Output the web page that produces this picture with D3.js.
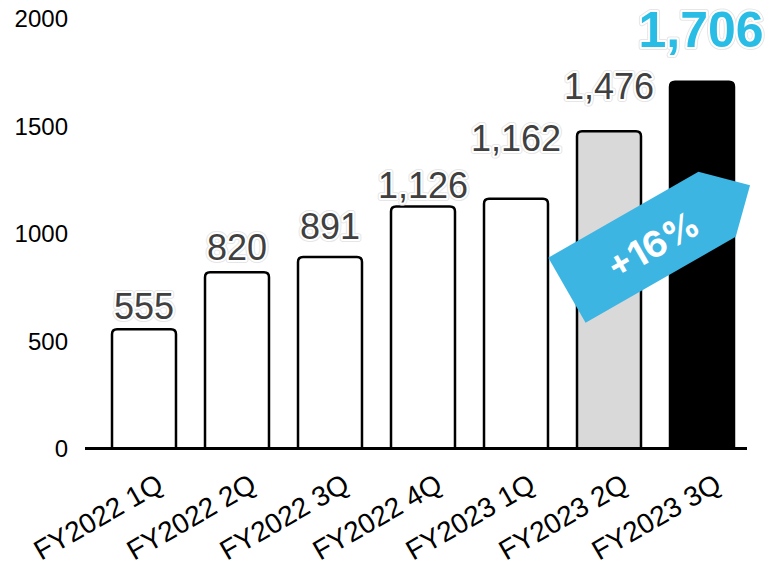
<!DOCTYPE html>
<html>
<head>
<meta charset="utf-8">
<script src="https://cdn.jsdelivr.net/npm/d3@7"></script>
<style>
  html, body { margin: 0; padding: 0; background: #fff; }
  svg { display: block; font-family: "Liberation Sans", Arial, sans-serif; }
</style>
</head>
<body>
<svg id="chart" width="765" height="568"></svg>
<script>
// Quarterly values
const quarters = ["FY2022 1Q", "FY2022 2Q", "FY2022 3Q", "FY2022 4Q", "FY2023 1Q", "FY2023 2Q", "FY2023 3Q"];
const values = [555, 820, 891, 1126, 1162, 1476, 1706];
const yTicks = [0, 500, 1000, 1500, 2000];
const growthLabel = "+16%";

// Bar fills: past quarters white, previous quarter grey, latest black
const fills = ["#ffffff", "#ffffff", "#ffffff", "#ffffff", "#ffffff", "#d9d9d9", "#000000"];
// Extra gap between each value label and its bar top (px)
const labelLift = [10, 12, 18, 8, 48, 32, 35];

const svg = d3.select("#chart");

const x = d3.scaleBand()
  .domain(quarters)
  .range([97.5, 748.5])
  .paddingInner(0.312)
  .paddingOuter(0.156);

const y = d3.scaleLinear()
  .domain([0, 2000])
  .range([448.5, 18.5]);

// Y axis tick labels (no axis line)
const yAxis = d3.axisLeft(y).tickValues(yTicks).tickSize(0).tickPadding(0).tickFormat(d3.format("d"));
const yg = svg.append("g").attr("transform", "translate(68,0)").call(yAxis);
yg.select(".domain").remove();
yg.selectAll("text")
  .attr("font-size", 24)
  .attr("font-family", "Liberation Sans, Arial, sans-serif")
  .attr("fill", "#000")
  .attr("dy", "0.35em");

// Bars with rounded tops
function barPath(d, i) {
  const x0 = x(quarters[i]);
  const w = x.bandwidth();
  const yt = y(d);
  const yb = y(0);
  const r = 5;
  return `M${x0},${yb} L${x0},${yt + r} Q${x0},${yt} ${x0 + r},${yt} L${x0 + w - r},${yt} Q${x0 + w},${yt} ${x0 + w},${yt + r} L${x0 + w},${yb}`;
}

svg.append("g").selectAll("path")
  .data(values)
  .join("path")
  .attr("d", barPath)
  .attr("fill", (d, i) => fills[i])
  .attr("stroke", "#000")
  .attr("stroke-width", 2.5)
  .attr("stroke-linejoin", "round");

// Baseline
svg.append("line")
  .attr("x1", 85).attr("x2", 747)
  .attr("y1", y(0)).attr("y2", y(0))
  .attr("stroke", "#000")
  .attr("stroke-width", 3);

// X axis labels, rotated
const xAxis = d3.axisBottom(x).tickSize(0).tickPadding(0);
const xg = svg.append("g").attr("transform", `translate(0,${y(0)})`).call(xAxis);
xg.select(".domain").remove();
xg.selectAll("text")
  .attr("font-size", 28)
  .attr("font-family", "Liberation Sans, Arial, sans-serif")
  .attr("fill", "#000")
  .attr("text-anchor", "end")
  .attr("dy", null)
  .attr("y", 0)
  .attr("transform", "translate(21,41) rotate(-30)");

// Value labels with a soft halo
const labels = svg.append("g");
const normal = values.slice(0, values.length - 1);
function drawLabels(sel, stroke, sw) {
  sel.selectAll(null)
    .data(normal)
    .join("text")
    .attr("x", (d, i) => x(quarters[i]) + x.bandwidth() / 2)
    .attr("y", (d, i) => y(d) - labelLift[i])
    .attr("text-anchor", "middle")
    .attr("font-size", 36)
    .attr("fill", "#404040")
    .attr("stroke", stroke)
    .attr("stroke-width", sw)
    .attr("stroke-linejoin", "round")
    .attr("paint-order", "stroke")
    .text(d => d3.format(",")(d));
}
drawLabels(labels.append("g"), "#e6e6e6", 6);
drawLabels(labels.append("g"), "#ffffff", 4);

// Latest quarter label, highlighted
const last = values.length - 1;
[["#e6e6e6", 6], ["#ffffff", 4]].forEach(([s, w]) => {
  svg.append("text")
    .attr("x", x(quarters[last]) + x.bandwidth() / 2 - 1)
    .attr("y", y(values[last]) - labelLift[last])
    .attr("text-anchor", "middle")
    .attr("font-size", 50)
    .attr("font-weight", "bold")
    .attr("fill", "#29bde6")
    .attr("stroke", s)
    .attr("stroke-width", w)
    .attr("stroke-linejoin", "round")
    .attr("paint-order", "stroke")
    .text(d3.format(",")(values[last]));
});

// Growth arrow between the last two quarters
const cx = (x(quarters[last - 1]) + x(quarters[last])) / 2 + x.bandwidth() / 2 + 3;
const cy = y(980);
const L = 173, H = 75, tip = 38;
const arrow = svg.append("g")
  .attr("transform", `translate(${cx},${cy}) rotate(-29.8) translate(${-(L + tip) / 2},${-H / 2})`);
arrow.append("path")
  .attr("d", `M0,0 L${L},0 L${L + tip},${H / 2} L${L},${H} L0,${H} Z`)
  .attr("fill", "#3cb5e3");
arrow.append("text")
  .attr("x", 97)
  .attr("y", 41)
  .attr("text-anchor", "middle")
  .attr("dominant-baseline", "central")
  .attr("font-size", 36)
  .attr("font-weight", "bold")
  .attr("font-family", "Inter, 'Noto Sans', sans-serif")
  .attr("fill", "#ffffff")
  .text(growthLabel);
</script>
</body>
</html>
